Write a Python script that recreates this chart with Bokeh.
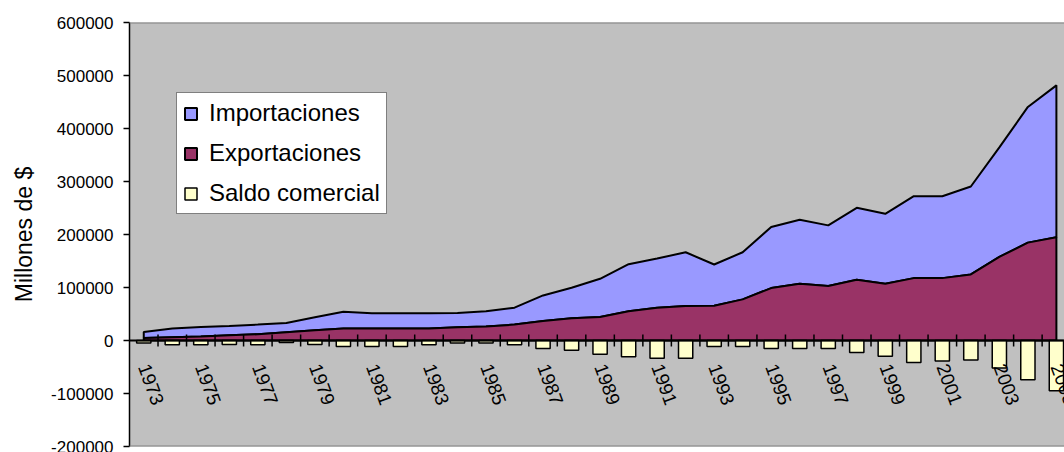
import numpy as np
from bokeh.plotting import figure
from bokeh.models import (Range1d, FixedTicker, NumeralTickFormatter, Span,
                          Legend, LegendItem)
from bokeh.core.properties import value
from bokeh.embed import file_html
from bokeh.resources import INLINE

# Comercio exterior, millones de $
years = list(range(1973, 2006))
exportaciones = [4900, 6200, 7500, 10000, 11800, 15600, 19300, 22500, 22500, 22500,
                 22500, 25000, 26300, 30000, 36800, 41900, 44400, 55100, 62000, 65100,
                 65700, 77600, 98900, 107000, 102700, 114600, 107000, 117700, 117700, 124600,
                 157800, 184700, 194700]
importaciones = [11000, 16300, 18100, 17500, 18200, 17500, 24500, 31900, 28800, 28800,
                 28800, 26900, 28700, 32000, 48200, 57600, 72000, 88900, 92600, 101400,
                 77700, 88900, 115200, 120900, 114500, 135800, 132100, 154600, 154600, 165900,
                 206500, 256000, 286700]
saldo_comercial = [-4500, -8200, -8200, -7500, -8200, -4000, -7500, -11300, -11300, -11300,
                   -8100, -4500, -4500, -8100, -15000, -18500, -26000, -30500, -33500, -33500,
                   -11300, -11300, -15000, -15000, -15000, -22500, -29500, -41500, -38500, -37000,
                   -52000, -74000, -95000]
y_ticks = [-200000, -100000, 0, 100000, 200000, 300000, 400000, 500000, 600000]

FONT = "Liberation Sans"

exp = np.array(exportaciones, dtype=float)
tot = exp + np.array(importaciones, dtype=float)
yrs = np.array(years, dtype=float)

# closed polygons for the stacked areas
xs = np.concatenate([yrs, yrs[::-1]])
ys_exp = np.concatenate([exp, np.zeros_like(exp)])
ys_imp = np.concatenate([tot, exp[::-1]])

frame_left = 129
fig_w, fig_h = 1064, 452
px_per_year = 28.52
x_start = years[0] - 0.5
x_end = x_start + (fig_w - frame_left) / px_per_year

p = figure(width=fig_w, height=fig_h, output_backend="svg", toolbar_location=None,
           x_range=Range1d(x_start, x_end), y_range=Range1d(y_ticks[0], y_ticks[-1]),
           x_axis_location=None,
           min_border_left=frame_left, min_border_right=0,
           min_border_top=22, min_border_bottom=6)

p.background_fill_color = "#C0C0C0"
p.border_fill_color = "white"
p.outline_line_color = None
p.grid.visible = False

r_imp = p.patch(xs, ys_imp, fill_color="#9999FF", line_color="black", line_width=2)
r_exp = p.patch(xs, ys_exp, fill_color="#993366", line_color="black", line_width=2)
r_sal = p.vbar(x=years, top=saldo_comercial, bottom=0, width=0.5,
               fill_color="#FFFFCC", line_color="black", line_width=1.5)

# frame edges and category axis at zero
p.add_layout(Span(location=y_ticks[-1], dimension="width", line_color="#808080", line_width=2))
p.add_layout(Span(location=y_ticks[0], dimension="width", line_color="#808080", line_width=2))
p.add_layout(Span(location=0, dimension="width", line_color="black", line_width=2))

boundaries = [y + 0.5 for y in years]
p.scatter(x=boundaries, y=[0] * len(boundaries), marker="dash", size=12, angle=np.pi / 2,
          line_color="black", line_width=1.5)

label_years = years[::2]
p.text(x=label_years, y=[0] * len(label_years), text=[str(y) for y in label_years],
       angle=-70, angle_units="deg", x_offset=0, y_offset=24,
       text_font=value(FONT), text_font_size="19px", text_color="black",
       text_align="left", text_baseline="middle")

ax = p.yaxis[0]
ax.ticker = FixedTicker(ticks=y_ticks)
ax.formatter = NumeralTickFormatter(format="0")
ax.major_label_text_font = FONT
ax.major_label_text_font_size = "17px"
ax.major_label_text_color = "black"
ax.major_label_standoff = 10
ax.major_tick_out = 6
ax.major_tick_in = 0
ax.major_tick_line_color = "black"
ax.major_tick_line_width = 1.5
ax.minor_tick_line_color = None
ax.axis_line_color = "black"
ax.axis_line_width = 1.5
ax.axis_label = "Millones de $"
ax.axis_label_text_font = FONT
ax.axis_label_text_font_size = "23px"
ax.axis_label_text_font_style = "normal"
ax.axis_label_text_color = "black"
ax.axis_label_standoff = 11

legend = Legend(items=[LegendItem(label="Importaciones", renderers=[r_imp]),
                       LegendItem(label="Exportaciones", renderers=[r_exp]),
                       LegendItem(label="Saldo comercial", renderers=[r_sal])],
                location=(47, 232), orientation="vertical",
                label_text_font=FONT, label_text_font_size="24px", label_text_color="black",
                label_height=26, label_standoff=11, glyph_width=15, glyph_height=15,
                spacing=12, padding=6, margin=0,
                border_line_color="black", border_line_width=1.5,
                background_fill_color="white", background_fill_alpha=1.0)
p.add_layout(legend)

open("out.html", "w").write(file_html(p, INLINE))
